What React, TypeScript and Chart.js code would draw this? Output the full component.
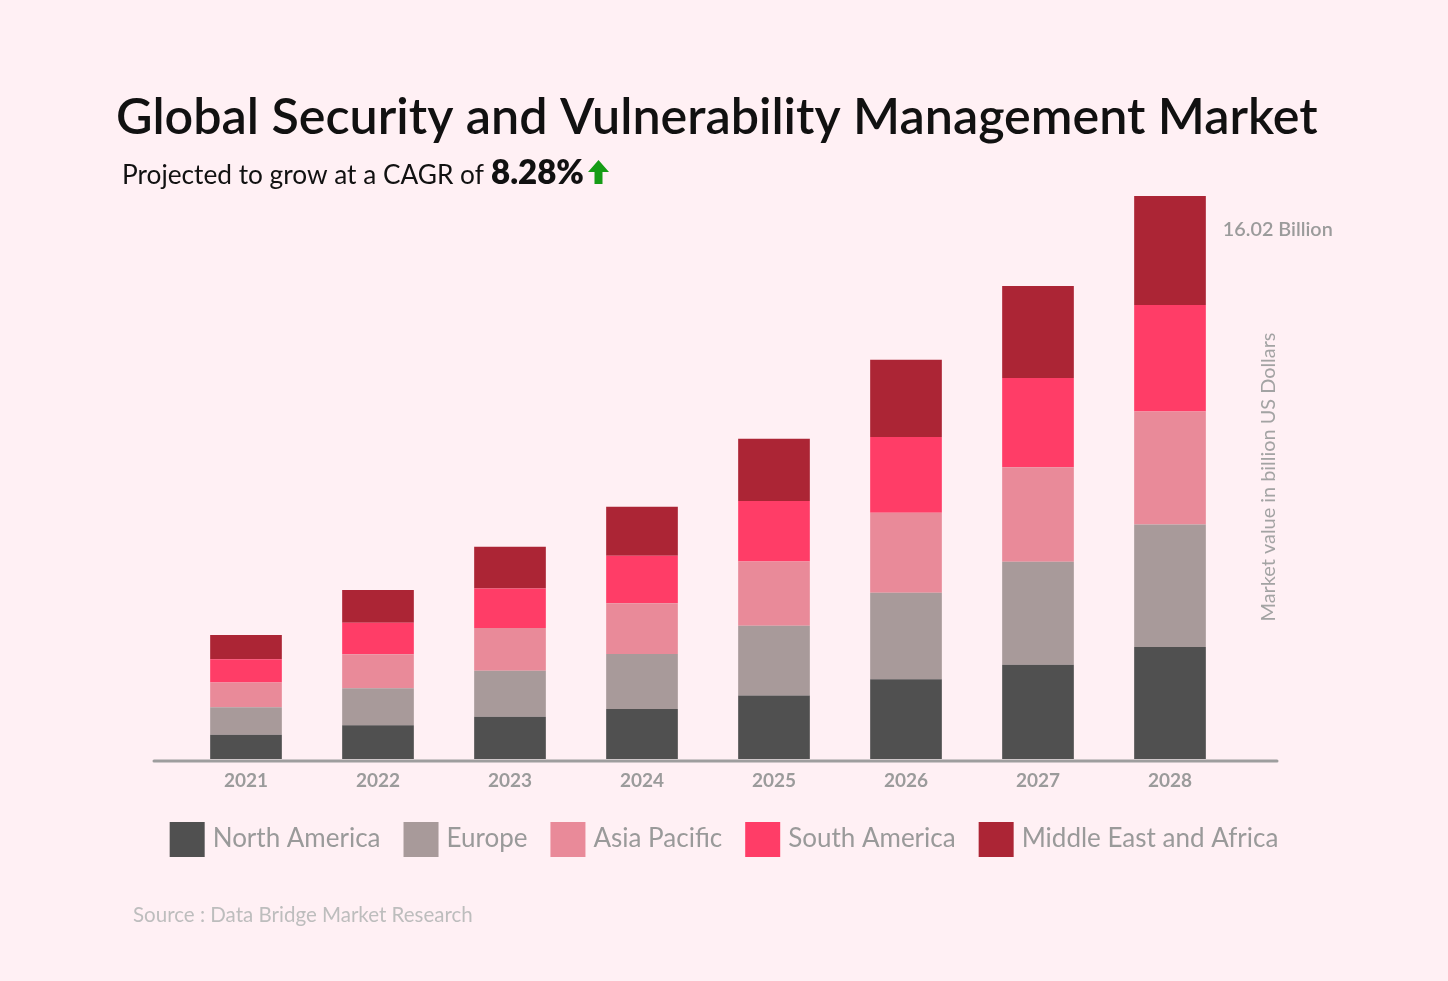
import React, { useEffect, useRef } from 'react';
import { Chart, registerables } from 'chart.js';

Chart.register(...registerables);

// ---------- data ----------
const years = ['2021', '2022', '2023', '2024', '2025', '2026', '2027', '2028'];
const northAmerica = [0.69, 0.96, 1.2, 1.42, 1.81, 2.27, 2.68, 3.19];
const europe = [0.78, 1.05, 1.31, 1.57, 1.98, 2.46, 2.93, 3.48];
const asiaPacific = [0.71, 0.97, 1.22, 1.44, 1.83, 2.28, 2.69, 3.22];
const southAmerica = [0.66, 0.9, 1.12, 1.35, 1.72, 2.15, 2.54, 3.03];
const middleEastAfrica = [0.69, 0.93, 1.19, 1.4, 1.77, 2.2, 2.62, 3.1];

const seriesNames = ['North America', 'Europe', 'Asia Pacific', 'South America', 'Middle East and Africa'];
const seriesColors = ['#505050', '#a89a9a', '#e98a99', '#ff3d67', '#ac2535'];

const titleText = 'Global Security and Vulnerability Management Market';
const subtitleText = 'Projected to grow at a CAGR of';
const cagrText = '8.28%';
const totalLabel = '16.02 Billion';
const yAxisTitle = 'Market value in billion US Dollars';
const sourceText = 'Source : Data Bridge Market Research';
const yMax = 16.02;

const FAMILY = 'Lato, "Noto Sans", sans-serif';
const BG = '#fff0f4';

function fitFont(ctx: CanvasRenderingContext2D, text: string, weight: string | number, base: number, target: number) {
  ctx.font = `${weight} ${base}px ${FAMILY}`;
  const w = ctx.measureText(text).width;
  let size = (base * target) / w;
  size = Math.max(base * 0.85, Math.min(base * 1.15, size));
  ctx.font = `${weight} ${size}px ${FAMILY}`;
  return size;
}

const decorPlugin = {
  id: 'decor',
  beforeDraw(chart: any) {
    const ctx = chart.ctx as CanvasRenderingContext2D;
    ctx.save();
    ctx.fillStyle = BG;
    ctx.fillRect(0, 0, chart.width, chart.height);
    ctx.restore();
  },
  afterDraw(chart: any) {
    const ctx = chart.ctx as CanvasRenderingContext2D;
    const area = chart.chartArea;
    ctx.save();

    // axis line
    ctx.strokeStyle = '#9e9e9e';
    ctx.lineWidth = 3;
    ctx.lineCap = 'round';
    ctx.beginPath();
    ctx.moveTo(area.left - 26, area.bottom + 2);
    ctx.lineTo(area.right + 41, area.bottom + 2);
    ctx.stroke();

    // title
    ctx.textAlign = 'left';
    ctx.textBaseline = 'alphabetic';
    ctx.fillStyle = '#111111';
    fitFont(ctx, titleText, 600, 49, 1202);
    ctx.fillText(titleText, 116, 134);

    // subtitle
    fitFont(ctx, subtitleText, 400, 24, 362);
    ctx.fillText(subtitleText, 122, 184);
    fitFont(ctx, cagrText, 800, 29, 93);
    ctx.fillText(cagrText, 491, 184);

    // green arrow
    ctx.fillStyle = '#169c16';
    ctx.beginPath();
    ctx.moveTo(598.5, 160);
    ctx.lineTo(609, 172);
    ctx.lineTo(602.5, 172);
    ctx.lineTo(602.5, 184);
    ctx.lineTo(594.5, 184);
    ctx.lineTo(594.5, 172);
    ctx.lineTo(588, 172);
    ctx.closePath();
    ctx.fill();

    // total label near last bar
    const lastMeta = chart.getDatasetMeta(chart.data.datasets.length - 1);
    const lastEl = lastMeta.data[lastMeta.data.length - 1];
    if (lastEl) {
      ctx.fillStyle = '#9b9b9b';
      fitFont(ctx, totalLabel, 600, 20, 110);
      ctx.fillText(totalLabel, lastEl.x + lastEl.width / 2 + 17, lastEl.y + 40);
    }

    // y-axis title (rotated)
    ctx.save();
    ctx.translate(1269, 477);
    ctx.rotate(-Math.PI / 2);
    ctx.textAlign = 'center';
    ctx.textBaseline = 'middle';
    ctx.fillStyle = '#a3a3a3';
    fitFont(ctx, yAxisTitle, 400, 19, 289);
    ctx.fillText(yAxisTitle, 0, 0);
    ctx.restore();

    // legend
    ctx.font = `400 26px ${FAMILY}`;
    const box = 35;
    const gapIn = 8;
    const gapOut = 23;
    const items = chart.data.datasets.map((ds: any) => ({
      label: ds.label as string,
      color: ds.backgroundColor as string,
      w: ctx.measureText(ds.label).width,
    }));
    const total =
      items.reduce((s: number, it: any) => s + box + gapIn + it.w, 0) + gapOut * (items.length - 1);
    let lx = chart.width / 2 - total / 2;
    items.forEach((it: any) => {
      ctx.fillStyle = it.color;
      ctx.fillRect(lx, 822, box, box);
      ctx.fillStyle = '#9a9a9a';
      ctx.textAlign = 'left';
      ctx.textBaseline = 'alphabetic';
      ctx.fillText(it.label, lx + box + gapIn, 847);
      lx += box + gapIn + it.w + gapOut;
    });

    // source
    ctx.fillStyle = '#bdbdbd';
    fitFont(ctx, sourceText, 400, 20, 340);
    ctx.fillText(sourceText, 133, 922);

    ctx.restore();
  },
};

export default function App() {
  const ref = useRef<HTMLCanvasElement>(null);

  useEffect(() => {
    const series = [northAmerica, europe, asiaPacific, southAmerica, middleEastAfrica];
    const chart = new Chart(ref.current as HTMLCanvasElement, {
      type: 'bar',
      data: {
        labels: years,
        datasets: series.map((values, i) => ({
          label: seriesNames[i],
          data: values,
          backgroundColor: seriesColors[i],
          borderWidth: 0,
          barPercentage: 0.543,
          categoryPercentage: 1,
        })),
      },
      options: {
        responsive: false,
        animation: false,
        devicePixelRatio: 1,
        layout: { padding: { left: 180, right: 212, top: 196, bottom: 0 } },
        plugins: {
          legend: { display: false },
          title: { display: false },
          tooltip: { enabled: false },
        },
        scales: {
          x: {
            stacked: true,
            grid: { display: false, drawTicks: false },
            border: { display: false },
            ticks: {
              color: '#9b9b9b',
              font: { family: FAMILY, size: 19, weight: 'bold' },
              padding: 10,
              maxRotation: 0,
              autoSkip: false,
            },
            afterFit(scale: any) {
              scale.height = 222;
            },
          },
          y: {
            stacked: true,
            display: false,
            min: 0,
            max: yMax,
          },
        },
      },
      plugins: [decorPlugin],
    } as any);
    return () => chart.destroy();
  }, []);

  return (
    <div style={{ position: 'absolute', left: 0, top: 0, width: 1448, height: 981, background: BG }}>
      <canvas ref={ref} width={1448} height={981} style={{ display: 'block', width: 1448, height: 981 }} />
    </div>
  );
}
